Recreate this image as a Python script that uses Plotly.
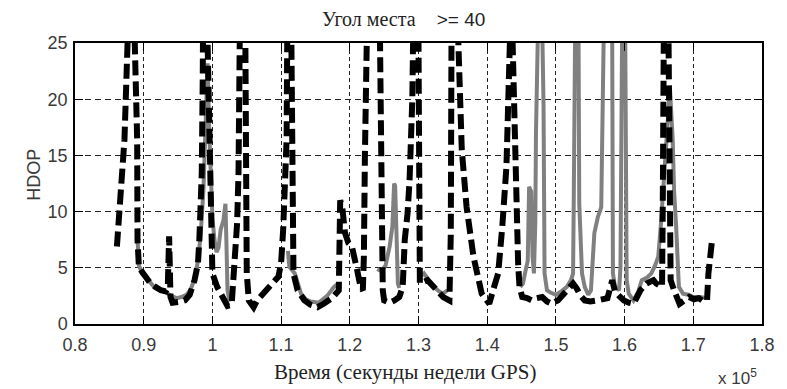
import plotly.graph_objects as go

# HDOP for elevation mask >= 40 deg, time in seconds of GPS week
black_t = [86100, 86700, 87200, 87650, 88200, 88700, 89050, 89100, 89300, 89800,
           90300, 91000, 91700, 92500, 93200, 93500, 93700, 93900, 94200, 94800,
           95500, 96000, 96700, 97400, 97900, 98100, 98350, 98450, 98600, 98950,
           99300, 99550, 99700, 100000, 100700, 101500, 102200, 102800, 103100, 103400,
           103600, 103800, 104100, 104200, 104500, 104800, 104900, 105000, 105300, 106000,
           106500, 107400, 108900, 109600, 110000, 110300, 110800, 111000, 111250, 111500,
           111600, 111650, 111800, 112400, 113400, 114300, 115300, 116200, 117400, 118400,
           118600, 118900, 119300, 119800, 120300, 121000, 121600, 121900, 122050, 122200,
           122400, 123400, 124400, 124600, 124800, 125000, 125800, 126500, 127200, 127700,
           128000, 128400, 128700, 129100, 129400, 129750, 130000, 130100, 130200, 131300,
           132200, 133600, 134500, 134700, 134800, 135300, 135800, 136300, 137000, 138000,
           139200, 140300, 141000, 141600, 142200, 142800, 143300, 143550, 143700, 144000,
           144300, 144500, 144700, 145100, 145800, 146500, 147200, 148000, 148700, 149400,
           150300, 151000, 151800, 152500, 153000, 153600, 154200, 155000, 156100, 156800,
           157500, 158200, 158600, 159200, 159900, 160600, 161300, 161800, 162300, 163200,
           164200, 164600, 165200, 165450, 165550, 165700, 166050, 166400, 166550, 166700,
           167200, 167500, 168000, 168700, 169400, 170100, 170800, 171500, 172000, 172200,
           172450, 172700]
black_hdop = [6.9, 11.3, 16.4, 25, 60, 25, 16.4, 7.5, 5.1, 4.6,
              4.2, 3.6, 3.3, 3.0, 2.9, 3.2, 7.8, 2.4, 1.9, 1.9,
              2.0, 2.1, 2.6, 3.9, 5.4, 7.5, 10.1, 13.4, 22.3, 60,
              25, 16.4, 7.5, 4.5, 3.3, 2.4, 1.6, 1.7, 3.9, 6.0,
              9.0, 13.4, 19.3, 23.8, 60, 25, 13.4, 4.5, 2.1, 1.5,
              2.1, 2.7, 3.6, 4.2, 5.4, 8.4, 16.4, 25, 60, 25,
              13.4, 7.5, 4.5, 3.0, 2.1, 1.7, 1.5, 1.8, 2.3, 3.0,
              11.0, 10.4, 8.1, 7.2, 6.9, 5.0, 3.2, 3.0, 6.0, 15,
              25, 60, 25, 10, 3.0, 2.1, 1.9, 2.1, 2.4, 3.3,
              7.5, 9.8, 12.8, 20, 25, 50, 25, 10, 3.6, 3.9,
              3.3, 2.4, 2.1, 8, 25, 50, 25, 15.5, 10.4, 6.0,
              2.7, 1.8, 3.3, 4.5, 8.7, 14, 25, 45, 25, 15,
              10, 5.4, 3.3, 2.4, 2.3, 2.1, 2.3, 2.4, 2.0, 1.8,
              2.1, 2.6, 3.0, 3.6, 3.2, 2.5, 2.1, 2.0, 2.1, 2.2,
              2.3, 3.9, 2.9, 2.5, 2.1, 1.9, 1.8, 2.4, 3.0, 3.6,
              3.9, 3.6, 3.3, 3.3, 10, 25, 60, 25, 10, 3.9,
              3.0, 2.4, 1.8, 2.1, 2.4, 2.2, 2.3, 2.0, 2.1, 4.5,
              6.9, 7.3]

gray_t = [89100, 89300, 89800, 90500, 91500, 92500, 93300, 94000, 94800, 95500,
          96200, 96800, 97400, 97900, 98300, 98700, 99000, 99300, 99550, 99800,
          100000, 100300, 100600, 100900, 101200, 101600, 101900, 102050, 102200, 102500,
          None,
          111000, 111200, 112000, 112900, 113600, 114300, 115500, 116700, 117700, 118100,
          None,
          124000, 124600, 125200, 125800, 126200, 126450, 126600, 126800, 127000, 127200,
          None,
          130200, 130800, 131500, 132200, 133000, 133600, 134200,
          None,
          144800, 145200, 145600, 145900, 146100, 146400, 146600, 146800, 147000, 147100,
          147350, 147750, 148050, 148200, 148350, 148700, 149200, 150000, 150800, 151600,
          152200, 152500, 152600, 152800, 153050, 153300, 153400, 153800, 154200, 154700,
          155100, 155600, 156100, 156600, 156900, 157650, 158200, 158300, 158600, 159200,
          159400, 159600, 159850, 160100, 160300, 160600, 161300, 162000, 162500, 163200,
          163900, 164500, 164900, 165300, 165800, 166200, 166600, 167000, 167200, 167500,
          167700, 167900, 168500, 169300, 170000, 171000, 172000]
gray_hdop = [7.6, 5.2, 4.5, 4.0, 3.3, 3.0, 2.8, 2.5, 2.3, 2.4,
             2.6, 3.0, 4.0, 5.6, 8.0, 12, 18, 23.2, 17, 13.4,
             9.5, 7.5, 6.4, 6.8, 8.4, 9.2, 10.7, 7.0, 3.0, 2.0,
             None,
             6.5, 5.1, 4.5, 2.7, 2.2, 2.0, 1.9, 2.5, 3.3, 3.5,
             None,
             4.9, 4.7, 5.2, 6.9, 8.7, 12.5, 12.3, 7.5, 3.6, 3.2,
             None,
             4.2, 4.5, 3.9, 3.3, 2.9, 2.7, 3.0,
             None,
             3.3, 3.6, 4.8, 5.6, 12.2, 11.8, 6.0, 4.5, 9.0, 17,
             25, 45, 25, 19.6, 4.5, 3.0, 2.8, 2.6, 2.9, 3.3,
             3.9, 4.5, 11, 25, 45, 25, 10.7, 4.5, 3.3, 2.6,
             3.0, 8.1, 9.5, 10.4, 25, 55, 25, 4.5, 3.3, 3.0,
             5.1, 25, 45, 25, 3.9, 2.7, 2.1, 2.9, 3.9, 4.1,
             4.5, 5.3, 6.0, 9.0, 14, 18, 21.0, 16.4, 11.9, 8.7,
             4.5, 3.3, 2.7, 2.6, 2.4, 2.4, 2.3]

x_ticks = [80000, 90000, 100000, 110000, 120000, 130000,
           140000, 150000, 160000, 170000, 180000]
x_tick_labels = ["0.8", "0.9", "1", "1.1", "1.2", "1.3", "1.4", "1.5", "1.6", "1.7", "1.8"]
y_ticks = [0, 5, 10, 15, 20, 25]

SANS = "Liberation Sans, Arial, sans-serif"
SERIF = "Liberation Serif, Times New Roman, serif"
TICK_FONT = dict(family=SANS, size=18, color="#3a3a3a")

fig = go.Figure()
fig.add_trace(go.Scatter(
    x=gray_t, y=gray_hdop, mode="lines", connectgaps=False,
    line=dict(color="#808080", width=4), showlegend=False, hoverinfo="skip"))
fig.add_trace(go.Scatter(
    x=black_t, y=black_hdop, mode="lines",
    line=dict(color="black", width=6, dash="15px,6px"), showlegend=False,
    hoverinfo="skip"))

fig.update_xaxes(
    range=[80000, 180000], tickvals=x_ticks, ticktext=x_tick_labels,
    showgrid=True, gridcolor="#222", gridwidth=1, griddash="4px,3px",
    showline=True, linecolor="black", linewidth=1.5, mirror="ticks",
    ticks="inside", ticklen=8, tickcolor="black", tickfont=TICK_FONT,
    ticklabelstandoff=4,
    zeroline=False, fixedrange=True)
fig.update_yaxes(
    range=[0, 25], tickvals=y_ticks,
    showgrid=True, gridcolor="#222", gridwidth=1, griddash="6px,4px",
    showline=True, linecolor="black", linewidth=1.5, mirror="ticks",
    ticks="inside", ticklen=8, tickcolor="black", tickfont=TICK_FONT,
    ticklabelstandoff=2,
    zeroline=False, fixedrange=True)

nb = "\u00a0"
annotations = [
    dict(text=f'<span style="font-family:{SERIF};font-size:20px">Угол места</span>{nb*4}>= 40',
         xref="paper", yref="paper", x=0.4785, y=1.085, xanchor="center", yanchor="middle",
         showarrow=False, font=dict(family=SANS, size=19, color="#222")),
    dict(text="Время (секунды недели GPS)",
         xref="paper", yref="paper", x=0.4805, y=-0.171, xanchor="center", yanchor="middle",
         showarrow=False, font=dict(family=SERIF, size=21, color="#222")),
    dict(text="HDOP", textangle=-90,
         xref="paper", yref="paper", x=-0.060, y=0.53, xanchor="center", yanchor="middle",
         showarrow=False, font=dict(family=SANS, size=18, color="#3a3a3a")),
    dict(text="x 10<sup>5</sup>",
         xref="paper", yref="paper", x=0.933, y=-0.19, xanchor="left", yanchor="middle",
         showarrow=False, font=dict(family=SANS, size=17, color="#3a3a3a")),
]

fig.update_layout(
    width=787, height=389,
    margin=dict(l=75, r=13, t=43, b=65),
    paper_bgcolor="white", plot_bgcolor="white",
    annotations=annotations,
)

fig.write_html("out.html")
